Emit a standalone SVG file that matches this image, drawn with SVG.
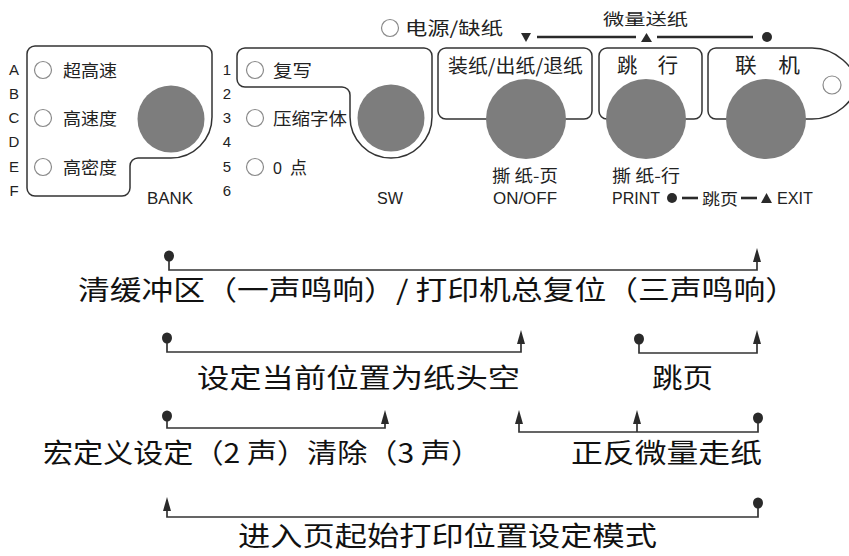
<svg xmlns="http://www.w3.org/2000/svg" xmlns:xlink="http://www.w3.org/1999/xlink" width="849" height="556" viewBox="0 0 849 556">
<style>
.bg{fill:#fff}
.panel{fill:#fff;stroke:#333;stroke-width:1.5}
.btn{fill:#7d7d7d}
.led{fill:#fff;stroke:#8a8a8a;stroke-width:1.2}
.lat{font-family:"Liberation Sans",Arial,sans-serif;fill:#222}
.cjk{font-family:"Noto Sans CJK SC","Noto Sans",sans-serif;fill:#222}
.big{font-family:"Noto Sans CJK SC","Noto Sans",sans-serif;fill:#111;font-size:27px}
.conn{fill:none;stroke:#333;stroke-width:1.7}
.mark{fill:#2a2a2a}
.bar{stroke:#2a2a2a;stroke-width:2.6}
</style>
<defs>
<path id="ah" d="M0,0 L-4,14 L4,14 Z"/>
<ellipse id="dot" rx="5" ry="5.5"/>
</defs>
<rect class="bg" width="849" height="556"/>

<g id="bank-panel">
<path class="panel" d="M35,46 H204 A8 8 0 0 1 212,54 V117 A41 41 0 0 1 171,158 H138 A8 8 0 0 0 130,166 V188 A8 8 0 0 1 122,196 H35 A8 8 0 0 1 27,188 V54 A8 8 0 0 1 35,46 Z"/>
<circle class="btn" cx="171" cy="119" r="33.5"/>
<g class="lat" font-size="15" text-anchor="middle">
<text x="14" y="75">A</text><text x="14" y="99">B</text><text x="14" y="123">C</text>
<text x="14" y="147">D</text><text x="14" y="172">E</text><text x="14" y="196">F</text>
</g>
<circle class="led" cx="43" cy="70" r="8.5"/>
<circle class="led" cx="43" cy="118" r="8.5"/>
<circle class="led" cx="43" cy="167" r="8.5"/>
<g class="cjk" font-size="17">
<text x="63" y="77" textLength="54" lengthAdjust="spacingAndGlyphs">超高速</text>
<text x="63" y="125" textLength="54" lengthAdjust="spacingAndGlyphs">高速度</text>
<text x="63" y="174" textLength="54" lengthAdjust="spacingAndGlyphs">高密度</text>
</g>
<text class="lat" x="147" y="204" font-size="16" textLength="46" lengthAdjust="spacingAndGlyphs">BANK</text>
</g>

<g id="sw-panel">
<path class="panel" d="M245,48 H424 A8 8 0 0 1 432,56 V117 A41 41 0 0 1 350,117 V95 A8 8 0 0 0 342,87 H245 A8 8 0 0 1 237,79 V56 A8 8 0 0 1 245,48 Z"/>
<circle class="btn" cx="391" cy="118" r="33.5"/>
<g class="lat" font-size="15" text-anchor="middle">
<text x="227" y="75">1</text><text x="227" y="99">2</text><text x="227" y="123">3</text>
<text x="227" y="147">4</text><text x="227" y="172">5</text><text x="227" y="196">6</text>
</g>
<circle class="led" cx="255" cy="70" r="8.5"/>
<circle class="led" cx="255" cy="118" r="8.5"/>
<circle class="led" cx="255" cy="167" r="8.5"/>
<g class="cjk" font-size="17">
<text x="273" y="77" textLength="39" lengthAdjust="spacingAndGlyphs">复写</text>
<text x="273" y="125" textLength="74" lengthAdjust="spacingAndGlyphs">压缩字体</text>
<text x="273" y="174"><tspan class="lat" font-size="16">0</tspan><tspan x="290">点</tspan></text>
</g>
<text class="lat" x="377" y="204" font-size="16" textLength="26" lengthAdjust="spacingAndGlyphs">SW</text>
</g>

<g id="power-indicator">
<circle class="led" cx="390" cy="28" r="8.5"/>
<text class="cjk" x="405" y="35" font-size="18" textLength="98" lengthAdjust="spacingAndGlyphs">电源/缺纸</text>
</g>

<g id="microfeed-legend">
<text class="cjk" x="603" y="25" font-size="16" textLength="85" lengthAdjust="spacingAndGlyphs">微量送纸</text>
<path class="mark" d="M521,33 L531,33 L526,42 Z"/>
<line class="bar" x1="537" y1="37" x2="636" y2="37"/>
<path class="mark" d="M641,42 L652,42 L646.5,33 Z"/>
<line class="bar" x1="657" y1="37" x2="753" y2="37"/>
<circle class="mark" cx="767" cy="37" r="5"/>
</g>

<g id="feed-panel">
<rect class="panel" x="438" y="48" width="154" height="71" rx="8"/>
<text class="cjk" x="448" y="73" font-size="19" textLength="135" lengthAdjust="spacingAndGlyphs">装纸/出纸/退纸</text>
<circle class="btn" cx="526" cy="119" r="40"/>
<text class="cjk" x="492" y="182" font-size="17" textLength="66" lengthAdjust="spacingAndGlyphs">撕 纸-页</text>
<text class="lat" x="493" y="204" font-size="16" textLength="64" lengthAdjust="spacingAndGlyphs">ON/OFF</text>
</g>

<g id="lf-panel">
<rect class="panel" x="599" y="48" width="103" height="71" rx="8"/>
<text class="cjk" x="617" y="73" font-size="20" textLength="61" lengthAdjust="spacingAndGlyphs">跳　行</text>
<circle class="btn" cx="646" cy="119" r="40"/>
<text class="cjk" x="612" y="182" font-size="17" textLength="68" lengthAdjust="spacingAndGlyphs">撕 纸-行</text>
<text class="lat" x="612" y="204" font-size="16" textLength="48" lengthAdjust="spacingAndGlyphs">PRINT</text>
<circle class="mark" cx="672" cy="198" r="5"/>
<line class="bar" x1="682" y1="198" x2="698" y2="198"/>
<text class="cjk" x="702" y="205" font-size="16" textLength="36" lengthAdjust="spacingAndGlyphs">跳页</text>
<line class="bar" x1="741" y1="198" x2="757" y2="198"/>
<path class="mark" d="M761,203 L772,203 L766.5,193 Z"/>
<text class="lat" x="777" y="204" font-size="16" textLength="36" lengthAdjust="spacingAndGlyphs">EXIT</text>
</g>

<g id="online-panel">
<path class="panel" d="M716,48 H812 C836,48 856,68 856,84 C856,100 836,119 812,119 H716 A8 8 0 0 1 708,111 V56 A8 8 0 0 1 716,48 Z"/>
<circle class="led" cx="832" cy="85" r="9"/>
<text class="cjk" x="735" y="73" font-size="20" textLength="65" lengthAdjust="spacingAndGlyphs">联　机</text>
<circle class="btn" cx="766" cy="119" r="40"/>
</g>

<g id="connectors">
<path class="conn" d="M169,256 V270 H757 V252"/>
<use href="#dot" xlink:href="#dot" x="169" y="256" class="mark"/>
<use href="#ah" xlink:href="#ah" x="757" y="248" class="mark"/>

<path class="conn" d="M167,338 V352 H521 V334"/>
<use href="#dot" xlink:href="#dot" x="167" y="338" class="mark"/>
<use href="#ah" xlink:href="#ah" x="521" y="330" class="mark"/>
<path class="conn" d="M639,339 V353 H757 V334"/>
<use href="#dot" xlink:href="#dot" x="639" y="339" class="mark"/>
<use href="#ah" xlink:href="#ah" x="757" y="330" class="mark"/>

<path class="conn" d="M167,416 V428 H385 V414"/>
<use href="#dot" xlink:href="#dot" x="167" y="416" class="mark"/>
<use href="#ah" xlink:href="#ah" x="385" y="410" class="mark"/>
<path class="conn" d="M519,414 V432 H758 V418 M637,414 V432"/>
<use href="#ah" xlink:href="#ah" x="519" y="410" class="mark"/>
<use href="#ah" xlink:href="#ah" x="637" y="410" class="mark"/>
<use href="#dot" xlink:href="#dot" x="758" y="418" class="mark"/>

<path class="conn" d="M167,501 V517 H758 V503"/>
<use href="#ah" xlink:href="#ah" x="167" y="497" class="mark"/>
<use href="#dot" xlink:href="#dot" x="758" y="503" class="mark"/>
</g>

<g id="label-reset"><text class="big" x="78" y="300" textLength="719" lengthAdjust="spacingAndGlyphs">清缓冲区（一声鸣响）/ 打印机总复位（三声鸣响）</text></g>
<g id="label-tof"><text class="big" x="197" y="388" textLength="323" lengthAdjust="spacingAndGlyphs">设定当前位置为纸头空</text></g>
<g id="label-formfeed"><text class="big" x="652" y="388" textLength="61" lengthAdjust="spacingAndGlyphs">跳页</text></g>
<g id="label-macro"><text class="big" x="43" y="463" textLength="438" lengthAdjust="spacingAndGlyphs">宏定义设定（2 声）清除（3 声）</text></g>
<g id="label-microfeed"><text class="big" x="571" y="463" textLength="191" lengthAdjust="spacingAndGlyphs">正反微量走纸</text></g>
<g id="label-tof-mode"><text class="big" x="238" y="546" font-size="26" textLength="419" lengthAdjust="spacingAndGlyphs">进入页起始打印位置设定模式</text></g>
</svg>
